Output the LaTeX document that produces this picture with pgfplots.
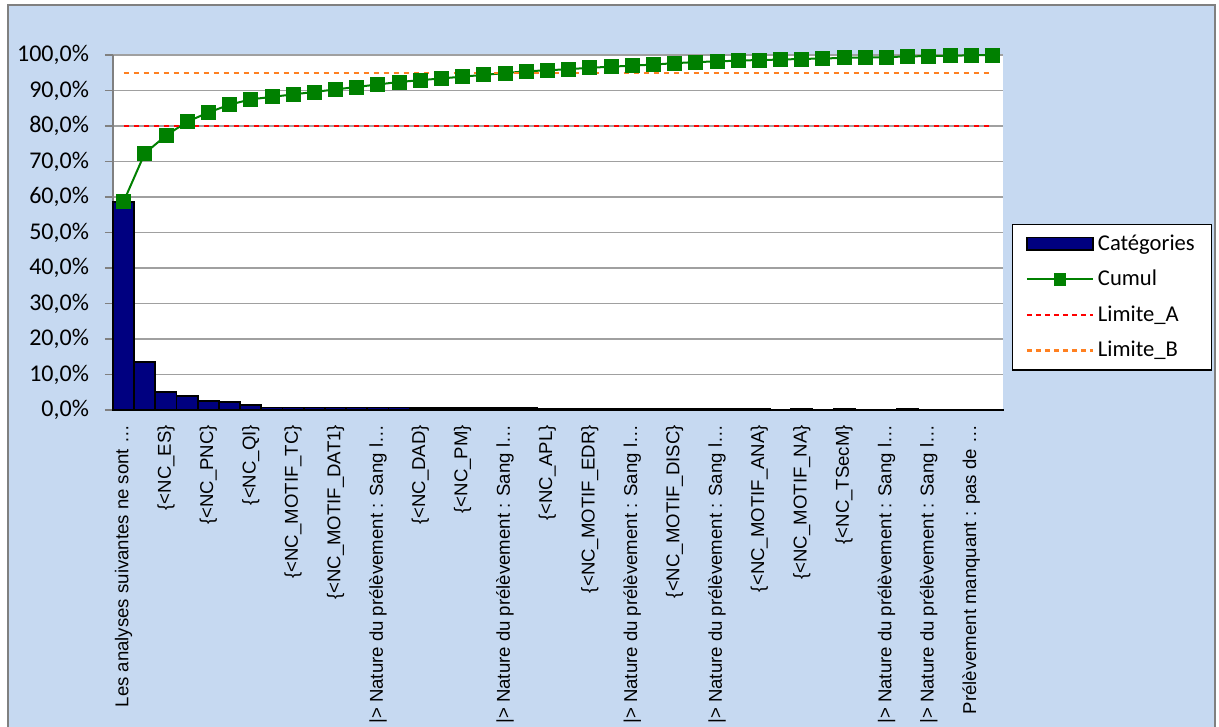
\documentclass[border=0pt]{standalone}
\usepackage{pgfplots}
\pgfplotsset{compat=1.18}
\usepackage{pgfplotstable}
\usepackage{fontspec}
\setmainfont{Carlito}
\newfontfamily\arialf{Liberation Sans}

\definecolor{chartbg}{RGB}{198,217,241}
\definecolor{framegray}{RGB}{128,128,128}
\definecolor{gridgray}{RGB}{160,160,160}
\definecolor{barnavy}{RGB}{0,0,128}
\definecolor{cumgreen}{RGB}{0,128,0}
\definecolor{limA}{RGB}{255,0,0}
\definecolor{limB}{RGB}{255,128,32}

\newcommand\natsang{|> Nature du prélèvement : Sang l…}

% x = category index, bar = share (%), cum = cumulated share (%)
\pgfplotstableread{
x bar cum
1 58.7 58.7
2 13.6 72.3
3 5.0 77.3
4 3.9 81.2
5 2.6 83.8
6 2.2 86.0
7 1.5 87.5
8 0.7 88.2
9 0.7 88.9
10 0.7 89.6
11 0.7 90.3
12 0.7 91.0
13 0.7 91.7
14 0.7 92.4
15 0.5 92.9
16 0.5 93.4
17 0.5 93.9
18 0.5 94.4
19 0.5 94.9
20 0.5 95.4
21 0.3 95.7
22 0.3 96.0
23 0.4 96.4
24 0.3 96.7
25 0.3 97.0
26 0.3 97.3
27 0.4 97.7
28 0.3 98.0
29 0.2 98.2
30 0.2 98.4
31 0.2 98.6
32 0.1 98.7
33 0.2 98.9
34 0.1 99.0
35 0.2 99.2
36 0.1 99.3
37 0.1 99.4
38 0.2 99.6
39 0.1 99.7
40 0.1 99.8
41 0.1 99.9
42 0.1 100.0
}\pareto

\begin{document}
\begin{tikzpicture}
\fill[chartbg] (-52.5pt,-160pt) rectangle (551pt,202.5pt);
\draw[framegray, line width=1.2pt] (-52.5pt,-160pt) -- (-52.5pt,202.5pt) -- (551pt,202.5pt) -- (551pt,-160pt);
\begin{axis}[
    at={(0pt,0pt)}, anchor=south west,
    scale only axis,
    width=445pt, height=177.5pt,
    xmin=0.5, xmax=42.5, ymin=0, ymax=100,
    axis background/.style={fill=white},
    axis x line*=bottom, axis y line*=left,
    x axis line style={black, line width=1pt, -},
    y axis line style={framegray, line width=0.8pt, -},
    ytick={0,10,...,100},
    yticklabels={{0,0\%},{10,0\%},{20,0\%},{30,0\%},{40,0\%},{50,0\%},{60,0\%},{70,0\%},{80,0\%},{90,0\%},{100,0\%}},
    ymajorgrids,
    major grid style={gridgray, line width=0.6pt},
    tick align=outside,
    major tick length=4pt,
    y tick style={framegray, line width=0.8pt},
    xtick={1,3,...,41},
    xticklabels={{Les analyses suivantes ne sont …},{\{<NC\_ES\}},{\{<NC\_PNC\}},{\{<NC\_QI\}},{\{<NC\_MOTIF\_TC\}},{\{<NC\_MOTIF\_DAT1\}},{\natsang},{\{<NC\_DAD\}},{\{<NC\_PM\}},{\natsang},{\{<NC\_APL\}},{\{<NC\_MOTIF\_EDR\}},{\natsang},{\{<NC\_MOTIF\_DISC\}},{\natsang},{\{<NC\_MOTIF\_ANA\}},{\{<NC\_MOTIF\_NA\}},{\{<NC\_TSecM\}},{\natsang},{\natsang},{Prélèvement manquant : pas de …}},
    x tick style={draw=none},
    minor xtick={0.5,1.5,...,42.5},
    minor tick length=3pt,
    minor x tick style={framegray, line width=0.8pt},
    xticklabel style={rotate=90, anchor=east, font=\arialf\fontsize{9.3}{11}\selectfont},
    yticklabel style={font=\fontsize{12}{14}\selectfont, xshift=-4.5pt},
    clip=false,
    legend style={at={(1.0101,0.524)}, anchor=north west, draw=black, line width=0.6pt,
        fill=white, font=\fontsize{11.3}{13}\selectfont,
        inner xsep=6.5pt, inner ysep=3pt, row sep=4.5pt, cells={anchor=west}},
]
\addplot[ybar, bar width=1, bar shift=0pt, fill=barnavy, draw=black, line width=0.9pt,
    legend image code/.code={\draw[fill=barnavy, draw=black, line width=0.8pt] (0pt,-3.2pt) rectangle (33pt,3.2pt);}]
    table[x=x, y=bar] {\pareto};
\addlegendentry{Catégories}
\addplot[cumgreen, line width=1pt, mark=square*, mark size=3.5pt,
    mark options={fill=cumgreen, draw=cumgreen, line width=0.4pt},
    legend image code/.code={\draw[cumgreen, line width=1pt] (0pt,0pt) -- (33pt,0pt);
        \fill[cumgreen] (16.5pt,0pt) +(-2.6pt,-2.6pt) rectangle +(2.6pt,2.6pt);}]
    table[x=x, y=cum] {\pareto};
\addlegendentry{Cumul}
\addplot[limA, line width=1.2pt, dash pattern=on 2.5pt off 2.5pt,
    legend image code/.code={\draw[limA, line width=1.2pt, dash pattern=on 2.5pt off 2pt] (0pt,0pt) -- (33pt,0pt);}]
    coordinates {(1,80) (42,80)};
\addlegendentry{Limite\_A}
\addplot[limB, line width=1.2pt, dash pattern=on 2.5pt off 2.5pt,
    legend image code/.code={\draw[limB, line width=1.2pt, dash pattern=on 2.5pt off 2pt] (0pt,0pt) -- (33pt,0pt);}]
    coordinates {(1,95) (42,95)};
\addlegendentry{Limite\_B}
\end{axis}
\pgfresetboundingbox
\useasboundingbox (-56.5pt,-158.5pt) rectangle (553pt,205pt);
\end{tikzpicture}
\end{document}
